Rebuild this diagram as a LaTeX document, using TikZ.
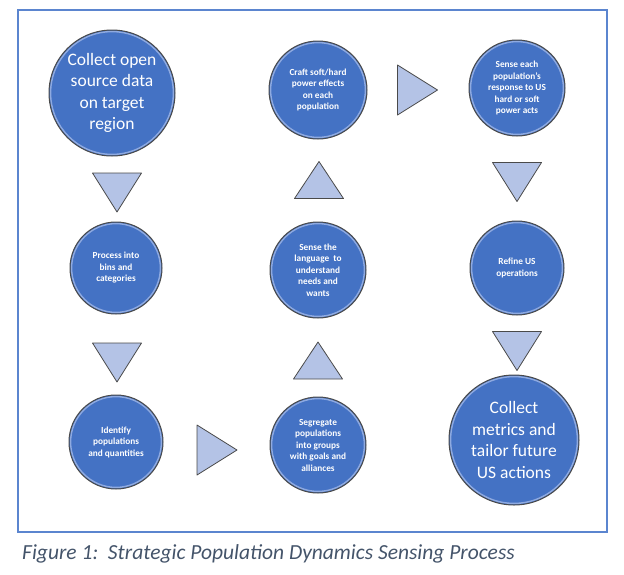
\documentclass[tikz,border=0pt]{standalone}
\usepackage{fontspec}
\setmainfont{Carlito}
\usepackage{xcolor}
\usepackage{tikz}
\definecolor{stepblue}{HTML}{4472C4}
\definecolor{rimgray}{HTML}{4A4A4A}
\definecolor{rimlight}{HTML}{8FAAE0}
\definecolor{arrowfill}{HTML}{B4C3E6}
\definecolor{framecol}{HTML}{5B85CF}
\definecolor{captiongray}{HTML}{44546A}

\tikzset{
  stepcircle/.style={circle, draw=rimgray, line width=1pt, fill=stepblue,
    text=white, align=center, inner sep=0pt,
    path picture={\draw[rimlight, line width=1.4pt]
      (path picture bounding box.center)
      circle[radius=\pgfkeysvalueof{/pgf/minimum width}/2-1.6pt];}},
  bigstep/.style={stepcircle, font=\fontsize{17.5}{21.5}\selectfont},
  smallstep/.style={stepcircle, font=\fontsize{9.3}{11.5}\selectfont\bfseries},
  flowtri/.style={draw=rimgray, line width=0.8pt, fill=arrowfill, line join=round}
}

\begin{document}
\begin{tikzpicture}[x=1pt,y=-1pt]
\useasboundingbox (0,0) rectangle (624,574);
\draw[framecol, line width=1.5pt] (18,10) rectangle (607,532);

% first column
\node[bigstep, minimum size=126pt] (collect) at (112,93)
  {Collect open\\source data\\on target\\region};
\node[smallstep, minimum size=92pt] (process) at (116,268)
  {Process into\\bins and\\categories};
\node[smallstep, minimum size=94pt] (identify) at (116,442)
  {Identify\\populations\\and quantities};

% second column
\node[smallstep, minimum size=96pt] (segregate) at (318,445)
  {Segregate\\populations\\into groups\\with goals and\\alliances};
\node[smallstep, minimum size=96pt] (language) at (318,270)
  {Sense the\\language\ \ to\\understand\\needs and\\wants};
\node[smallstep, minimum size=98pt] (craft) at (318,90)
  {Craft soft/hard\\power effects\\on each\\population};

% third column
\node[smallstep, minimum size=96pt] (sense) at (517,88)
  {Sense each\\population's\\response to US\\hard or soft\\power acts};
\node[smallstep, minimum size=94pt] (refine) at (517,268)
  {Refine US\\operations};
\node[bigstep, minimum size=130pt] (metrics) at (514,440)
  {Collect\\metrics and\\tailor future\\US actions};

% triangles between the steps
\draw[flowtri] (117,192.5) ++(-24.5,-19.5) -- ++(49,0) -- ++(-24.5,39) -- cycle;
\draw[flowtri] (117,362.5) ++(-24.5,-19.5) -- ++(49,0) -- ++(-24.5,39) -- cycle;
\draw[flowtri] (217,450) ++(-20,-25) -- ++(0,50) -- ++(40,-25) -- cycle;
\draw[flowtri] (318,360.5) ++(-24.5,18.5) -- ++(49,0) -- ++(-24.5,-37) -- cycle;
\draw[flowtri] (319,180) ++(-24.5,18.5) -- ++(49,0) -- ++(-24.5,-37) -- cycle;
\draw[flowtri] (417.5,90) ++(-20,-25) -- ++(0,50) -- ++(40,-25) -- cycle;
\draw[flowtri] (517,182) ++(-24.5,-19.5) -- ++(49,0) -- ++(-24.5,39) -- cycle;
\draw[flowtri] (517,351) ++(-24.5,-19.5) -- ++(49,0) -- ++(-24.5,39) -- cycle;

\node[anchor=base west, inner sep=0pt, text=captiongray,
  font=\fontsize{21.5}{25}\selectfont\itshape] (caption) at (22,559)
  {Figure 1:\ \ Strategic Population Dynamics Sensing Process};
\end{tikzpicture}
\end{document}
